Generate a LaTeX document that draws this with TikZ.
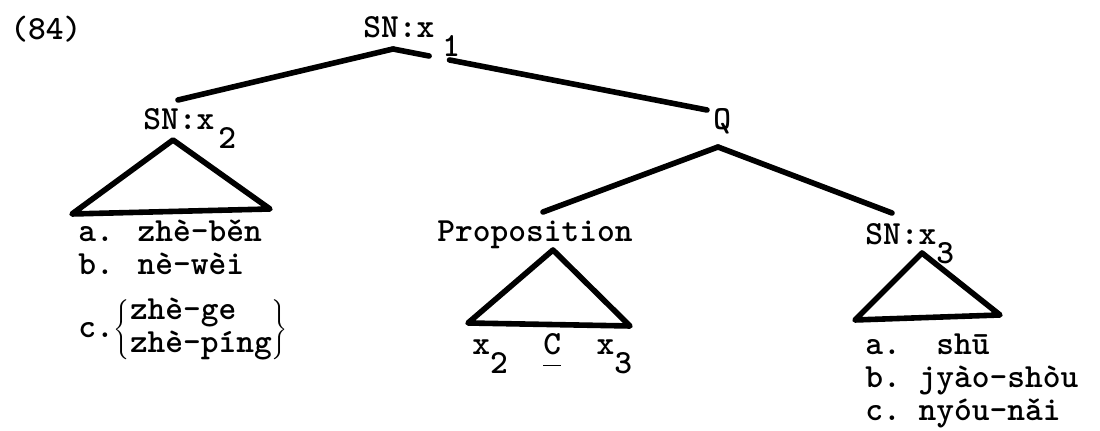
\documentclass[tikz,border=0pt]{standalone}
\usepackage{fontspec}
\usetikzlibrary{positioning, calc}

\newcommand\lowsub[1]{\raisebox{-9.5pt}{#1}}

\begin{document}
\begin{tikzpicture}[
  x=0.5pt, y=-0.5pt,
  txt/.style={anchor=base west, inner sep=0pt,
              font=\ttfamily\bfseries\fontsize{16.9}{18}\selectfont},
  branch/.style={line width=2.8pt, line cap=round, line join=round},
  roof/.style={branch},
]
  \useasboundingbox (0,0) rectangle (1100,431);

  % tree points
  \coordinate (top)   at (393,49);
  \coordinate (sn2up) at (178,100);
  \coordinate (qup)   at (707,110);
  \coordinate (qtop)  at (718,147);
  \coordinate (propup) at (543,212);
  \coordinate (sn3up) at (892,213);

  \draw[branch] (top) -- (sn2up);
  \draw[branch] (top) -- ($(top)!0.115!(qup)$)
                ($(top)!0.18!(qup)$) -- (qup);
  \draw[branch] (qtop) -- (propup);
  \draw[branch] (qtop) -- (sn3up);

  % roofs
  \draw[roof] (173,140) -- (72,214) -- (270,209) -- cycle;
  \draw[roof] (553,250) -- (468,323) -- (630,326) -- cycle;
  \draw[roof] (922,253) -- (855,320) -- (1000,315) -- cycle;

  \node[txt] (num)  at (10,40)   {(84)};
  \node[txt] (root) at (363,38)  {SN:x\hspace{4pt}\lowsub{1}};
  \node[txt] (sn2)  at (143,130) {SN:x\hspace{2pt}\lowsub{2}};
  \node[txt] (q)    at (713,130) {Q};
  \node[txt] (prop) at (437,242) {Proposition};
  \node[txt] (sn3)  at (865,245) {SN:x\lowsub{3}};

  % left leaves
  \node[txt] (la) at (78,242) {a. zhè-běn};
  \node[txt] (lb) at (78,275) {b. nè-wèi};
  \node[txt] (lc) at (78,338)
    {c.$\left\{\renewcommand\arraystretch{0.9}%
       \begin{tabular}{@{}l@{}}zhè-ge\\zhè-píng\end{tabular}\right\}$};

  % proposition leaves
  \node[txt] (pl) at (472,355)
    {x\lowsub{2}~~\underline{\vphantom{g}C}~~x\lowsub{3}};

  % right leaves
  \node[txt] (ra) at (865,355) {a.~~shū};
  \node[txt] (rb) at (865,388) {b.~jyào-shòu};
  \node[txt] (rc) at (865,421) {c.~nyóu-nǎi};
\end{tikzpicture}
\end{document}
